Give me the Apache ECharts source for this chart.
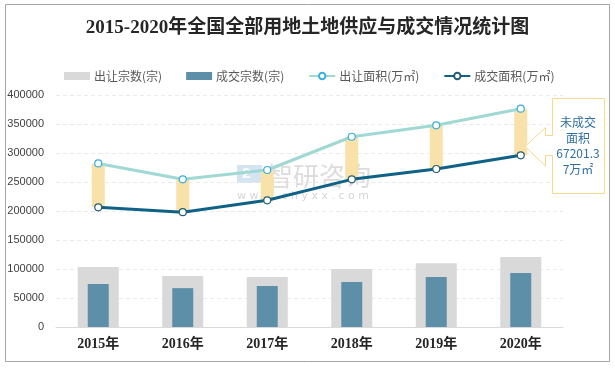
<!DOCTYPE html>
<html>
<head>
<meta charset="utf-8">
<script src="https://cdn.jsdelivr.net/npm/echarts@6/dist/echarts.min.js"></script>
<style>
html,body{margin:0;padding:0;background:#fff;}
#main{width:615px;height:368px;}
</style>
</head>
<body>
<div id="main"></div>
<script>
// ---- data ----
var years = ['2015年', '2016年', '2017年', '2018年', '2019年', '2020年'];
var supplyCount = [103400, 88000, 86000, 100000, 110000, 120700];
var dealCount = [74000, 67000, 70700, 77600, 86000, 93000];
var supplyArea = [282000, 254600, 270700, 328000, 347700, 376400];
var dealArea = [206400, 198000, 218400, 254600, 272400, 296000];
var yTicks = [0, 50000, 100000, 150000, 200000, 250000, 300000, 350000, 400000];
var titleText = '2015-2020年全国全部用地土地供应与成交情况统计图';
var names = ['出让宗数(宗)', '成交宗数(宗)', '出让面积(万㎡)', '成交面积(万㎡)'];
var calloutText = '未成交\n面积\n67201.3\n7万㎡';

var gap = supplyArea.map(function (v, i) { return v - dealArea[i]; });

var chart = echarts.init(document.getElementById('main'), null, {renderer: 'canvas'});
var catAxis = function (show) {
  return {
    type: 'category', data: years, show: show,
    axisLine: {show: show, lineStyle: {color: '#D9D9D9', width: 1}},
    axisTick: {show: false},
    axisLabel: {show: show, color: '#262626', fontSize: 14, fontWeight: 'bold',
      fontFamily: '"Liberation Serif","Noto Sans CJK SC"', margin: 10}
  };
};
var option = {
  animation: false,
  backgroundColor: '#fff',
  title: {
    text: titleText, left: 'center', top: 14,
    textStyle: {fontSize: 19, fontWeight: 'bold', color: '#262626',
      fontFamily: '"Liberation Serif","Noto Sans CJK SC"'}
  },
  legend: {
    left: 59, top: 65, itemWidth: 26, itemHeight: 8, itemGap: 24,
    data: names,
    textStyle: {fontSize: 12, color: '#595959', fontFamily: '"Noto Sans CJK SC"', padding: [0, 0, 0, -1]}
  },
  grid: {left: 56, right: 52, top: 95, bottom: 41},
  xAxis: [catAxis(true), catAxis(false), catAxis(false)],
  yAxis: {
    type: 'value', min: 0, max: 400000, interval: 50000,
    axisLine: {show: false}, axisTick: {show: false},
    axisLabel: {color: '#404040', fontSize: 11, margin: 12, fontFamily: '"Liberation Sans"',
      formatter: function (v) { return String(v); }},
    splitLine: {lineStyle: {color: '#EBEBEB', type: [4, 3]}}
  },
  graphic: [
    {type: 'rect', shape: {x: 5.5, y: 4.5, width: 604, height: 357}, style: {fill: 'none', stroke: '#A6A6A6', lineWidth: 1}, silent: true, z: -1},
    {type: 'rect', shape: {x: 237, y: 165, width: 25, height: 18}, style: {fill: 'rgba(160,195,225,0.45)'}, z: 0},
    {type: 'text', x: 242, y: 166, style: {text: '2', fill: 'rgba(255,255,255,0.9)', font: 'bold 15px "Liberation Sans"'}, z: 0},
    {type: 'text', x: 267, y: 163, style: {text: '智研咨询', fill: 'rgba(150,150,150,0.33)', font: '26px "Noto Sans CJK SC"'}, z: 0},
    {type: 'text', x: 237, y: 191, style: {text: 'w w w . c h y x x . c o m', fill: 'rgba(150,150,150,0.4)', font: '11px "DejaVu Sans"'}, z: 0},
    {type: 'polygon', shape: {points: [[552.5, 98.5], [604.5, 98.5], [604.5, 193.5], [552.5, 193.5], [552.5, 155.5], [545.5, 155.5], [545.5, 166], [525, 146.5], [545.5, 127.5], [545.5, 135.5], [552.5, 135.5]]},
      style: {fill: '#fff', stroke: '#F7D98E', lineWidth: 1}, z: 10},
    {type: 'text', x: 578, y: 146, style: {text: calloutText, fill: '#2F6FA0', font: '12px "Noto Sans CJK SC"', textAlign: 'center', textVerticalAlign: 'middle', lineHeight: 15.5}, z: 11}
  ],
  series: [
    {name: names[0], type: 'bar', xAxisIndex: 0, data: supplyCount, barWidth: 41, itemStyle: {color: '#D9D9D9'}, z: 2},
    {name: names[1], type: 'bar', xAxisIndex: 1, data: dealCount, barWidth: 21, itemStyle: {color: '#5D8FA8'}, z: 3},
    {name: 'base', type: 'bar', xAxisIndex: 2, stack: 'gap', data: dealArea, barWidth: 13, itemStyle: {color: 'rgba(0,0,0,0)'}, z: 3, silent: true},
    {name: 'gap', type: 'bar', xAxisIndex: 2, stack: 'gap', data: gap, barWidth: 13, itemStyle: {color: '#F9E2AA'}, z: 3, silent: true},
    {name: names[2], type: 'line', xAxisIndex: 0, data: supplyArea, symbol: 'circle', symbolSize: 7,
      lineStyle: {color: '#A0D8D3', width: 3}, itemStyle: {color: '#fff', borderColor: '#3AAEDF', borderWidth: 1.2}, z: 5},
    {name: names[3], type: 'line', xAxisIndex: 0, data: dealArea, symbol: 'circle', symbolSize: 7,
      lineStyle: {color: '#0F6286', width: 3}, itemStyle: {color: '#fff', borderColor: '#245E73', borderWidth: 1.2}, z: 5}
  ]
};
option.legend.data = [
  {name: names[0], icon: 'rect', itemStyle: {color: '#D9D9D9'}},
  {name: names[1], icon: 'rect', itemStyle: {color: '#5D8FA8'}},
  {name: names[2], itemStyle: {color: '#fff', borderColor: '#3AAEDF'}, lineStyle: {color: '#A0D8D3'}},
  {name: names[3], itemStyle: {color: '#fff', borderColor: '#245E73'}, lineStyle: {color: '#0F6286'}}
];
chart.setOption(option);
</script>
</body>
</html>
